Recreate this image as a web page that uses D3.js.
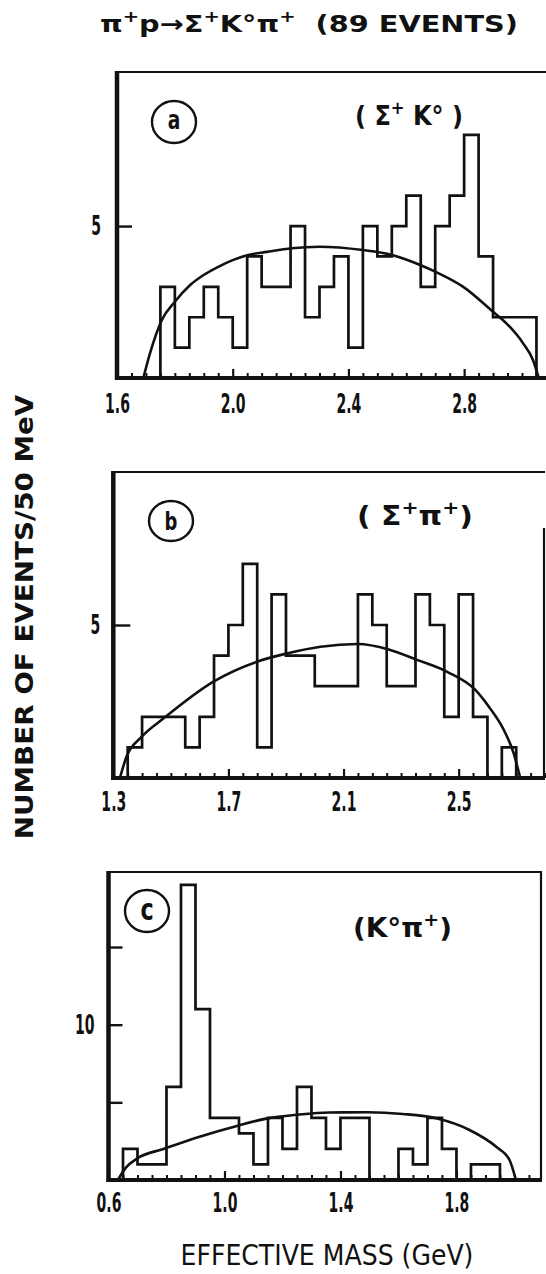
<!DOCTYPE html>
<html><head><meta charset="utf-8">
<script src="https://cdn.jsdelivr.net/npm/d3@7"></script>
<style>html,body{margin:0;padding:0;background:#fff}svg{display:block}text{white-space:pre}</style>
</head><body><svg id="c" width="546" height="1274"></svg>
<script>
// ---------------- data ----------------
const binWidth = 0.05;

// (a) Sigma+ K0
const startA = 1.75;
const countsA = [3,1,2,3,2,1,4,3,3,5,2,3,4,1,5,4,5,6,3,5,6,8,4,2,2,2];
const curveAMass  = [1.691,1.714,1.755,1.80,1.852,1.898,1.95,2.00,2.054,2.118,2.204,2.30,2.45,2.55,2.648,2.70,2.797,2.90,2.946,3.004,3.038,3.058];
const curveAValue = [0,0.81,1.91,2.51,3.05,3.38,3.66,3.88,4.05,4.15,4.27,4.32,4.21,4.05,3.72,3.5,3.0,2.18,1.8,1.14,0.59,0];
const xTicksA = [1.6,2.0,2.4,2.8];
const yTicksA = [5];
const yLabelsA = [5];

// (b) Sigma+ pi+
const startB = 1.35;
const countsB = [1,2,2,2,1,2,4,5,7,1,6,4,4,3,3,3,6,5,3,3,6,5,2,6,2,0,1];
const curveBMass  = [1.323,1.346,1.399,1.475,1.648,1.799,1.903,2.02,2.15,2.257,2.355,2.46,2.558,2.605,2.657,2.691,2.714];
const curveBValue = [0,0.7,1.35,1.95,3.15,3.8,4.07,4.29,4.38,4.2,3.86,3.47,2.88,2.33,1.57,0.81,0];
const xTicksB = [1.3,1.7,2.1,2.5];
const yTicksB = [5];
const yLabelsB = [5];

// (c) K0 pi+
const startC = 0.65;
const countsC = [2,1,1,6,19,11,4,4,3,1,4,2,6,4,2,4,4,0,0,2,1,4,2,0,1,1];
const curveCMass  = [0.632,0.66,0.70,0.79,0.914,1.046,1.144,1.25,1.362,1.494,1.615,1.73,1.845,1.937,1.983,2.005];
const curveCValue = [0,0.8,1.4,2.0,2.79,3.5,3.95,4.2,4.35,4.36,4.25,3.97,3.22,2.14,1.29,0];
const xTicksC = [0.6,1.0,1.4,1.8];
const yTicksC = [5,10,15];
const yLabelsC = [10];

const titleParts = [{t:"π"},{t:"+",sup:1},{t:"p→Σ"},{t:"+",sup:1},{t:"K°π"},{t:"+",sup:1},{t:"  (89 EVENTS)"}];
const labelA = [{t:"( Σ"},{t:"+",sup:1},{t:" K° )"}];
const labelB = [{t:"( Σ"},{t:"+",sup:1},{t:"π"},{t:"+",sup:1},{t:")"}];
const labelC = [{t:"(K°π"},{t:"+",sup:1},{t:")"}];
const yTitle = "NUMBER OF EVENTS/50 MeV";
const xTitle = "EFFECTIVE MASS (GeV)";

// ---------------- drawing ----------------
const svg = d3.select("#c");
const FONT = "'DejaVu Sans', 'Liberation Sans', sans-serif";
const INK = "#111";

function rich(parent, parts, fs) {
  let shift = 0;
  parts.forEach(p => {
    const ts = parent.append("tspan").text(p.t);
    const target = p.sup ? -0.42 * fs : 0;
    if (target !== shift) { ts.attr("dy", target - shift); shift = target; }
    if (p.sup) ts.attr("font-size", 0.68 * fs);
  });
}
function fitted(parent, x, y, width, opts) {
  const t = parent.append("text")
    .attr("font-family", FONT).attr("font-size", opts.fs)
    .attr("font-weight", opts.bold ? "bold" : "normal")
    .attr("fill", INK).attr("text-anchor", opts.anchor || "start");
  if (opts.parts) rich(t, opts.parts, opts.fs); else t.text(opts.text);
  const w = t.node().getComputedTextLength();
  const s = width / w;
  t.attr("transform", `translate(${x},${y})${opts.rotate ? " rotate(" + opts.rotate + ")" : ""} scale(${s},1)`);
  return t;
}

const panels = [
  {start:startA, counts:countsA, cm:curveAMass, cv:curveAValue, xt:xTicksA, yt:yTicksA, yl:yLabelsA,
   xd:[1.6,3.083], xr:[117,546], yd:[0,10.07], yr:[378,72], rightFrom:null, yTick:15, yPad:16, xPad:16,
   letter:"a", circ:[174,122,22,21], lfs:26, lbase:129, sub:labelA, subX:355, subY:125, subW:108},
  {start:startB, counts:countsB, cm:curveBMass, cv:curveBValue, xt:xTicksB, yt:yTicksB, yl:yLabelsB,
   xd:[1.3,2.80], xr:[113.3,545], yd:[0,10], yr:[778,472], rightFrom:528, yTick:17, yPad:13, xPad:14,
   letter:"b", circ:[171,521,22,20], lfs:25, lbase:530, sub:labelB, subX:357, subY:525, subW:116},
  {start:startC, counts:countsC, cm:curveCMass, cv:curveCValue, xt:xTicksC, yt:yTicksC, yl:yLabelsC,
   xd:[0.6,2.095], xr:[108.5,542], yd:[0,19.83], yr:[1180,872], rightFrom:872, yTick:14, yPad:14, xPad:13,
   letter:"c", circ:[147,911,22,21], lfs:31, lbase:920, sub:labelC, subX:353, subY:937, subW:99}
];

const SX = 0.52; // horizontal compression of the narrow lettering

panels.forEach(p => {
  const x = d3.scaleLinear().domain(p.xd).range(p.xr);
  const y = d3.scaleLinear().domain(p.yd).range(p.yr);
  const g = svg.append("g");
  const L = p.xr[0], R = p.xr[1], B = p.yr[0], T = p.yr[1];

  // frame
  g.append("line").attr("x1", L).attr("x2", R).attr("y1", T).attr("y2", T)
    .attr("stroke", INK).attr("stroke-width", 2);
  if (p.rightFrom !== null)
    g.append("line").attr("x1", R - 1).attr("x2", R - 1).attr("y1", p.rightFrom).attr("y2", B)
      .attr("stroke", INK).attr("stroke-width", 2.2);

  // minor ticks (every 50 MeV)
  const n = Math.floor((p.xd[1] - p.xd[0]) / binWidth + 1e-6);
  const minor = d3.range(1, n + 1).map(i => +(p.xd[0] + i * binWidth).toFixed(2))
    .filter(v => !p.xt.some(m => Math.abs(m - v) < 1e-6));
  const gMinor = g.append("g").attr("transform", `translate(0,${B})`)
    .call(d3.axisBottom(x).tickValues(minor).tickSize(-5).tickFormat(""));
  gMinor.select(".domain").remove();
  gMinor.selectAll("line").attr("stroke", INK).attr("stroke-width", 2);

  const gMajor = g.append("g").attr("transform", `translate(0,${B})`)
    .call(d3.axisBottom(x).tickValues(p.xt).tickSize(-9).tickPadding(p.xPad).tickFormat(d3.format(".1f")));
  gMajor.select(".domain").remove();
  gMajor.selectAll("line").attr("stroke", INK).attr("stroke-width", 2.2);
  gMajor.selectAll("text").attr("font-family", FONT).attr("font-size", 27).attr("font-weight", "bold")
    .attr("fill", INK).attr("transform", `scale(${SX},1)`);

  // y ticks
  const gy = g.append("g").attr("transform", `translate(${L},0)`)
    .call(d3.axisLeft(y).tickValues(p.yt).tickSize(-p.yTick).tickPadding(p.yPad)
      .tickFormat(d => p.yl.includes(d) ? String(d) : ""));
  gy.select(".domain").remove();
  gy.selectAll("line").attr("stroke", INK).attr("stroke-width", 2.4);
  gy.selectAll("text").attr("font-family", FONT).attr("font-size", 27).attr("font-weight", "bold")
    .attr("fill", INK).attr("x", -p.yPad / SX).attr("transform", `scale(${SX},1)`);

  // thick axes
  g.append("line").attr("x1", L).attr("x2", L).attr("y1", T - 1).attr("y2", B + 2)
    .attr("stroke", INK).attr("stroke-width", 4.5);
  g.append("line").attr("x1", L - 2).attr("x2", R).attr("y1", B).attr("y2", B)
    .attr("stroke", INK).attr("stroke-width", 4);

  // histogram
  const pts = [[p.start, 0]]
    .concat(p.counts.map((c, i) => [p.start + i * binWidth, c]))
    .concat([[p.start + p.counts.length * binWidth, 0]]);
  g.append("path")
    .attr("d", d3.line().x(d => x(d[0])).y(d => y(d[1])).curve(d3.curveStepAfter)(pts))
    .attr("fill", "none").attr("stroke", INK).attr("stroke-width", 2.7).attr("stroke-linejoin", "miter");

  // phase-space curve
  const cpts = p.cm.map((m, i) => [m, p.cv[i]]);
  g.append("path")
    .attr("d", d3.line().x(d => x(d[0])).y(d => y(d[1])).curve(d3.curveMonotoneX)(cpts))
    .attr("fill", "none").attr("stroke", INK).attr("stroke-width", 2.6);

  // circled letter
  g.append("ellipse").attr("cx", p.circ[0]).attr("cy", p.circ[1]).attr("rx", p.circ[2]).attr("ry", p.circ[3])
    .attr("fill", "none").attr("stroke", INK).attr("stroke-width", 2.4);
  g.append("text").attr("font-family", FONT).attr("font-weight", "bold").attr("font-size", p.lfs)
    .attr("text-anchor", "middle").attr("fill", INK)
    .attr("transform", `translate(${p.circ[0]},${p.lbase}) scale(0.72,1)`).text(p.letter);

  // channel label
  fitted(g, p.subX, p.subY, p.subW, {fs: 26, parts: p.sub, bold: true});
});

// title
fitted(svg, 100, 32, 418, {fs: 23, parts: titleParts, bold: true});
// y-axis title
fitted(svg, 33, 617, 445, {fs: 25, text: yTitle, bold: true, anchor: "middle", rotate: -90});
// x-axis title
fitted(svg, 327, 1265, 293, {fs: 28, text: xTitle, bold: false, anchor: "middle"});
</script>
</body></html>
